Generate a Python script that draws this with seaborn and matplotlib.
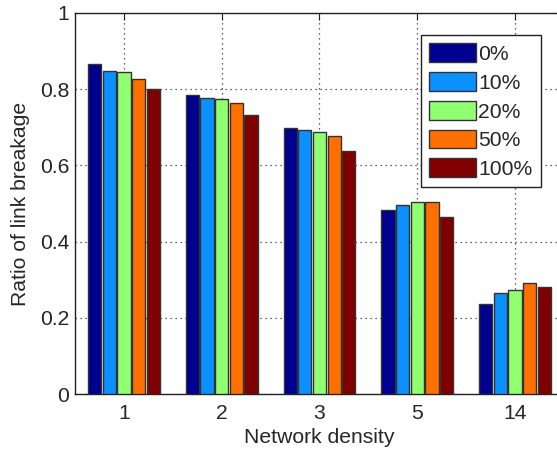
import matplotlib
matplotlib.use("Agg")
import matplotlib.pyplot as plt
from matplotlib.patches import Patch
import seaborn as sns
import pandas as pd

# Network density categories and link-breakage ratios per share
densities = ["1", "2", "3", "5", "14"]
shares = ["0%", "10%", "20%", "50%", "100%"]
ratio_0 = [0.867, 0.785, 0.698, 0.482, 0.237]
ratio_10 = [0.848, 0.777, 0.692, 0.497, 0.264]
ratio_20 = [0.846, 0.774, 0.688, 0.503, 0.272]
ratio_50 = [0.828, 0.763, 0.677, 0.503, 0.291]
ratio_100 = [0.800, 0.733, 0.639, 0.464, 0.281]
colors = ["#000090", "#0A90FF", "#90FF70", "#FF7000", "#800000"]

series = [ratio_0, ratio_10, ratio_20, ratio_50, ratio_100]
rows = []
for share, vals in zip(shares, series):
    for d, v in zip(densities, vals):
        rows.append({"density": d, "share": share, "ratio": v})
df = pd.DataFrame(rows)

sns.set_style("white")
plt.rcParams["font.family"] = ["Liberation Sans", "DejaVu Sans"]
FS = 15.2

fig = plt.figure(figsize=(5.57, 4.5), dpi=100)
ax = fig.add_axes([75 / 557, 56 / 450, 489 / 557, 381 / 450])

sns.barplot(data=df, x="density", y="ratio", hue="share", order=densities,
            hue_order=shares, palette=colors, width=0.75, gap=0.1,
            edgecolor="#333333", linewidth=1.0, saturation=1.0,
            legend=False, ax=ax, zorder=3)

ax.set_xlim(-0.5, 4.5)
ax.set_ylim(0, 1)
ax.set_yticks([0, 0.2, 0.4, 0.6, 0.8, 1])
ax.set_yticklabels(["0", "0.2", "0.4", "0.6", "0.8", "1"])
ax.set_xlabel("Network density", fontsize=FS, labelpad=4)
ax.set_ylabel("Ratio of link breakage", fontsize=FS, labelpad=7)
ax.tick_params(axis="both", labelsize=FS, direction="in", length=5,
               width=0.8, top=True, right=True, color="#222222")
ax.tick_params(axis="x", pad=7)
ax.tick_params(axis="y", pad=4)

ax.set_axisbelow(True)
ax.grid(True, color="#333333", linestyle=(0, (1, 3)), linewidth=0.9)
for s in ax.spines.values():
    s.set_color("#222222")
    s.set_linewidth(1.0)
    s.set_visible(True)

handles = [Patch(facecolor=c, edgecolor="#333333", linewidth=1.0) for c in colors]
leg = fig.legend(handles, shares, loc="upper left",
                 bbox_to_anchor=(421 / 557, 1 - 35 / 450),
                 bbox_transform=fig.transFigure, fontsize=FS,
                 handlelength=2.2, handleheight=1.0, handletextpad=0.1,
                 labelspacing=0.38, borderpad=0.4, borderaxespad=0,
                 fancybox=False, framealpha=1, edgecolor="#222222")
leg.get_frame().set_linewidth(1.0)

fig.savefig("out.png", dpi=100)
